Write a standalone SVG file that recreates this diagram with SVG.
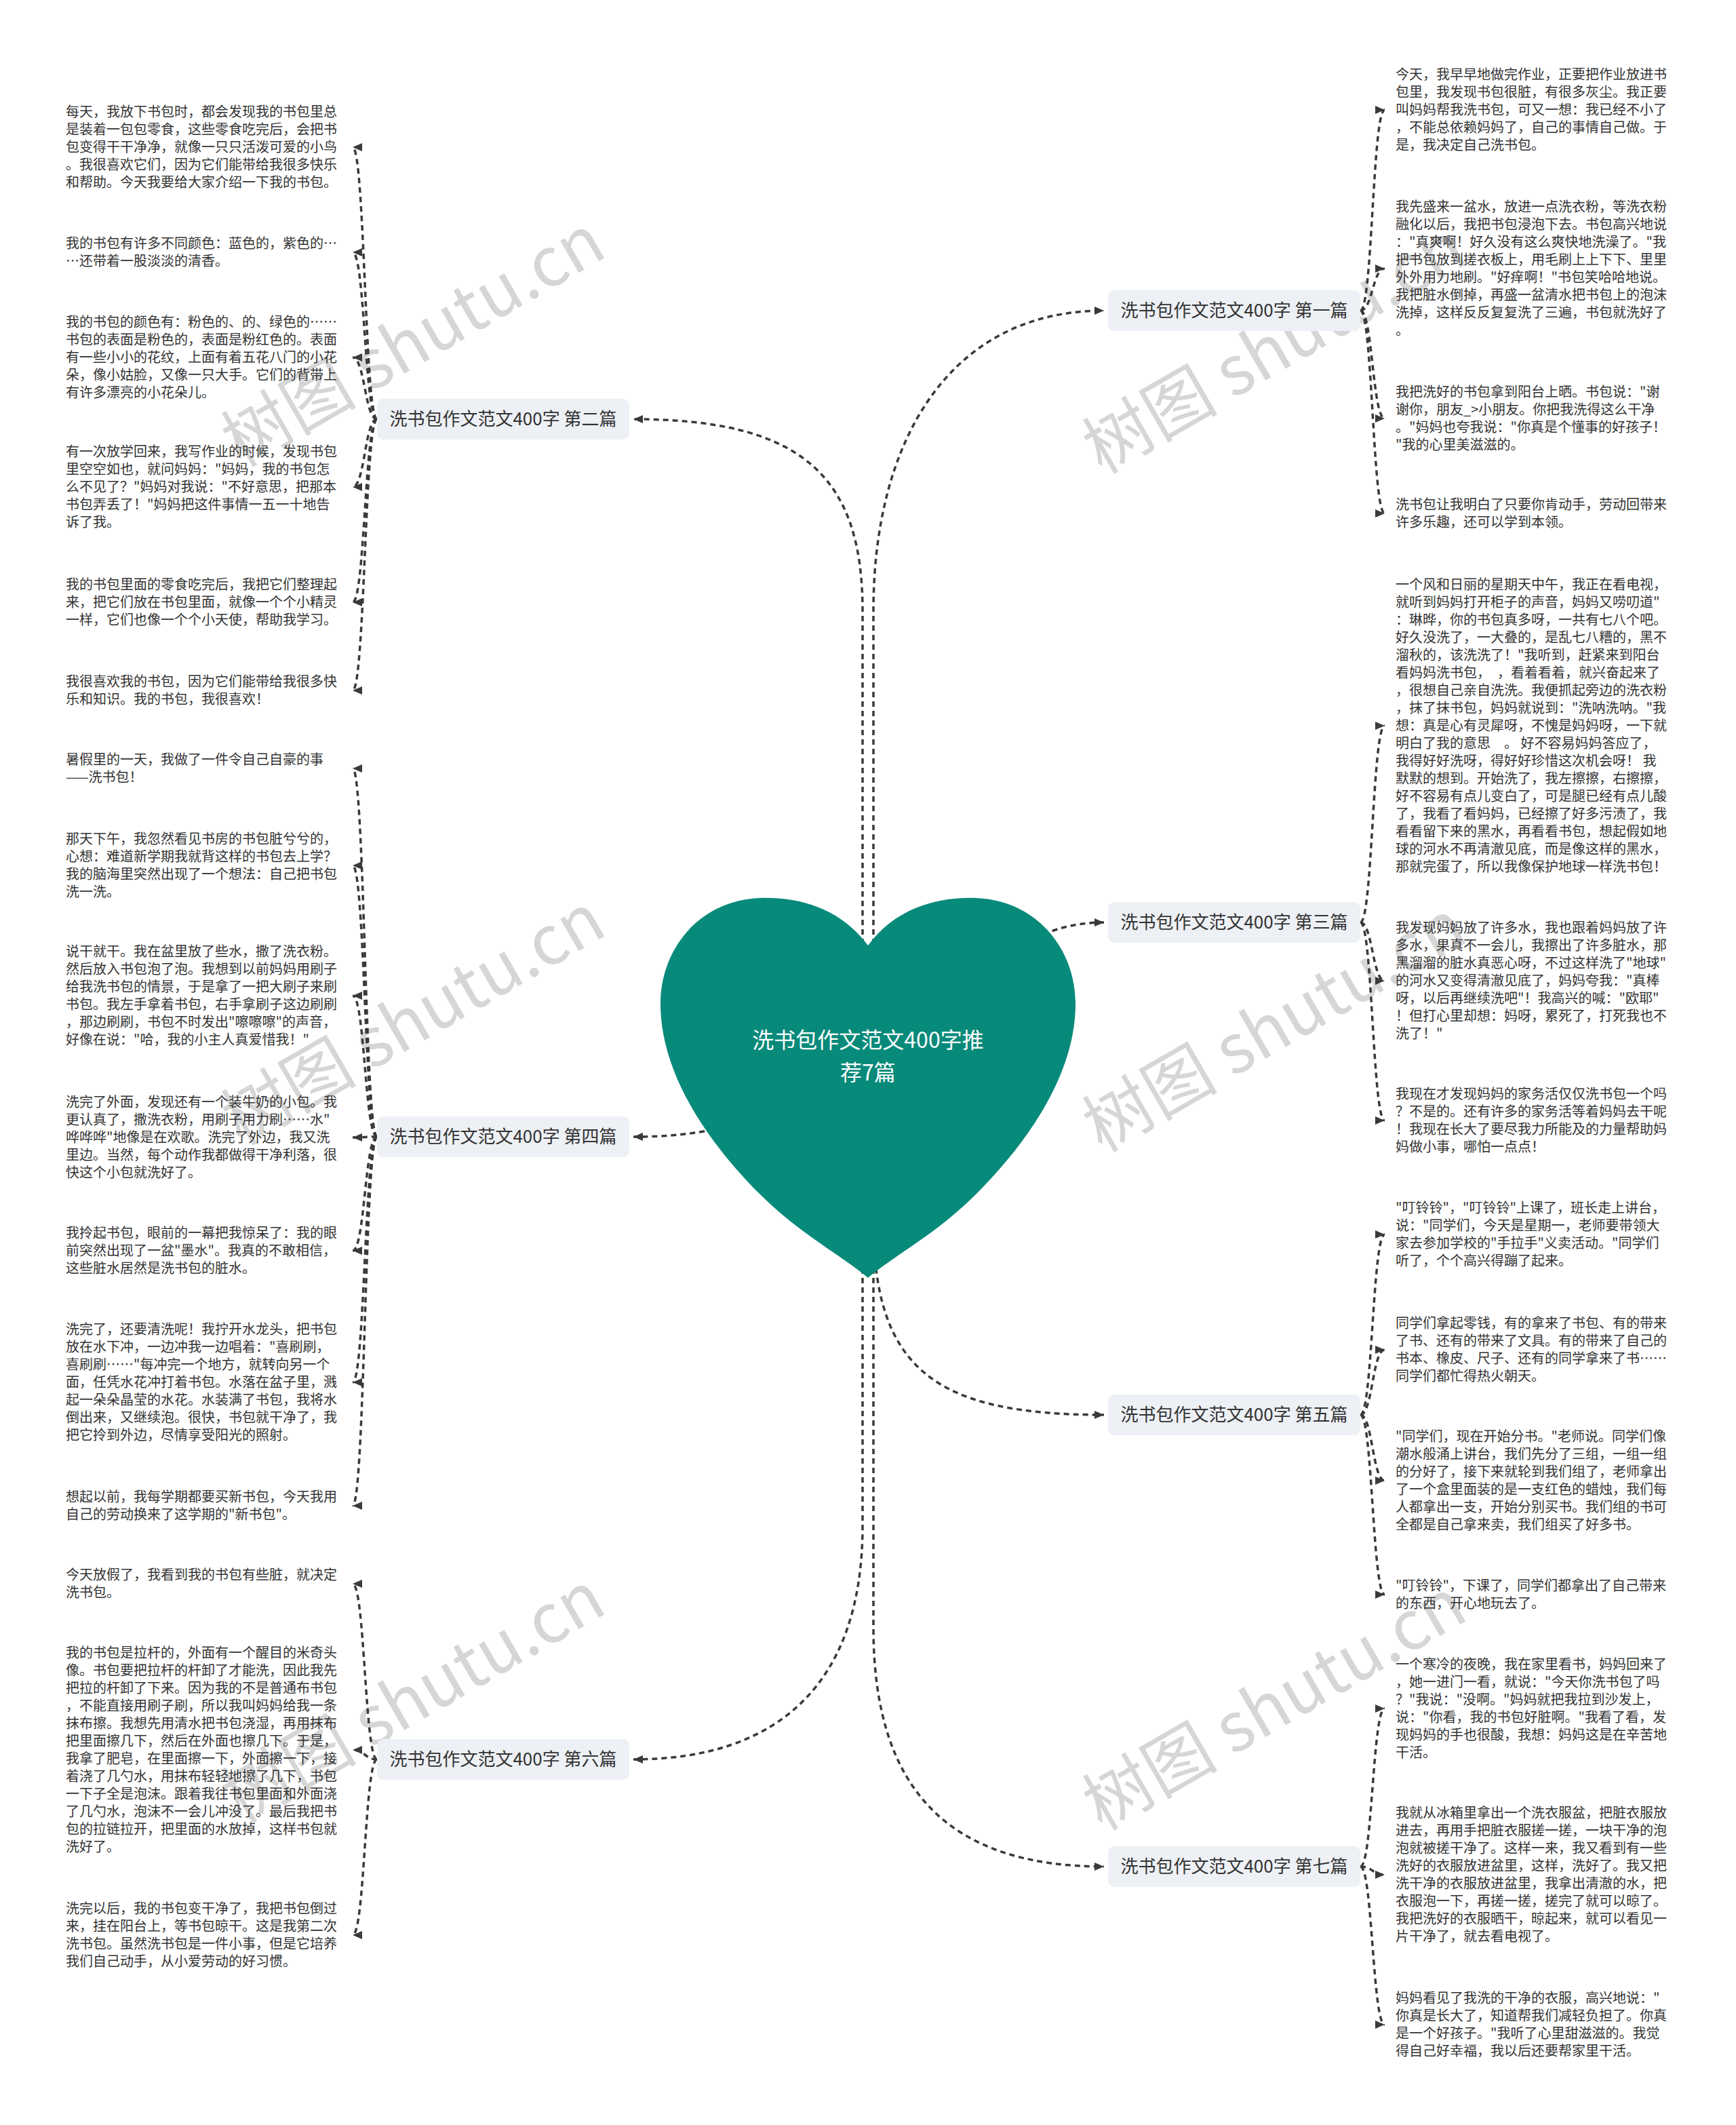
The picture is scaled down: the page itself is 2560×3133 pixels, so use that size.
<svg xmlns="http://www.w3.org/2000/svg" width="2560" height="3133" viewBox="0 0 2560 3133">
<style>
.t{font-family:"Noto Sans CJK SC","Noto Sans",sans-serif;font-size:20px;fill:#333;white-space:pre}
.lbl{font-family:"Noto Sans CJK SC","Noto Sans",sans-serif;font-size:26px;fill:#333;text-anchor:middle}
.box{fill:#edf0f4}
.c{fill:none;stroke:#3a3a3a;stroke-width:3.5;stroke-dasharray:8 6;marker-end:url(#arr)}
.wm{font-family:"Noto Sans CJK SC","Noto Sans",sans-serif;font-size:100px;fill:#d6d6d6}
.title{font-family:"Noto Sans CJK SC","Noto Sans",sans-serif;font-size:32px;fill:#fff;text-anchor:middle}
</style>
<defs>
<marker id="arr" viewBox="0 0 14 12" refX="14" refY="6" markerWidth="14" markerHeight="12" markerUnits="userSpaceOnUse" orient="auto"><path d="M0,0 L14,6 L0,12 z" fill="#3a3a3a"/></marker>
</defs>
<rect width="2560" height="3133" fill="#fff"/>
<g id="watermarks">
<text class="wm" transform="translate(355,690) rotate(-30)">树图 shutu.cn</text>
<text class="wm" transform="translate(355,1690) rotate(-30)">树图 shutu.cn</text>
<text class="wm" transform="translate(355,2690) rotate(-30)">树图 shutu.cn</text>
<text class="wm" transform="translate(1625,700) rotate(-30)">树图 shutu.cn</text>
<text class="wm" transform="translate(1625,1700) rotate(-30)">树图 shutu.cn</text>
<text class="wm" transform="translate(1625,2700) rotate(-30)">树图 shutu.cn</text>
</g>
<g id="connectors">
<path class="c" d="M1288,1420 L1288,900 C1288,650 1400,458 1628,458"/>
<path class="c" d="M1272,1420 L1272,900 C1272,700 1180,618 934,618"/>
<path class="c" d="M1280,1600 C1400,1600 1420,1360 1628,1360"/>
<path class="c" d="M1280,1600 C1160,1600 1140,1676 934,1676"/>
<path class="c" d="M1288,1800 C1288,2020 1380,2086 1628,2086"/>
<path class="c" d="M1272,1800 L1272,2250 C1272,2480 1150,2594 934,2594"/>
<path class="c" d="M1288,1800 L1288,2400 C1288,2640 1400,2752 1628,2752"/>
<path class="c" d="M2006,458 C2024,458 2024,162 2042,162"/>
<path class="c" d="M2006,458 C2024,458 2024,396 2042,396"/>
<path class="c" d="M2006,458 C2024,458 2024,617 2042,617"/>
<path class="c" d="M2006,458 C2024,458 2024,757 2042,757"/>
<path class="c" d="M556,618 C538,618 538,217 520,217"/>
<path class="c" d="M556,618 C538,618 538,372 520,372"/>
<path class="c" d="M556,618 C538,618 538,527 520,527"/>
<path class="c" d="M556,618 C538,618 538,718 520,718"/>
<path class="c" d="M556,618 C538,618 538,888 520,888"/>
<path class="c" d="M556,618 C538,618 538,1018 520,1018"/>
<path class="c" d="M2006,1360 C2024,1360 2024,1070 2042,1070"/>
<path class="c" d="M2006,1360 C2024,1360 2024,1446 2042,1446"/>
<path class="c" d="M2006,1360 C2024,1360 2024,1652 2042,1652"/>
<path class="c" d="M556,1676 C538,1676 538,1133 520,1133"/>
<path class="c" d="M556,1676 C538,1676 538,1276 520,1276"/>
<path class="c" d="M556,1676 C538,1676 538,1468 520,1468"/>
<path class="c" d="M556,1676 C538,1676 538,1677 520,1677"/>
<path class="c" d="M556,1676 C538,1676 538,1844 520,1844"/>
<path class="c" d="M556,1676 C538,1676 538,2038 520,2038"/>
<path class="c" d="M556,1676 C538,1676 538,2220 520,2220"/>
<path class="c" d="M2006,2086 C2024,2086 2024,1820 2042,1820"/>
<path class="c" d="M2006,2086 C2024,2086 2024,1990 2042,1990"/>
<path class="c" d="M2006,2086 C2024,2086 2024,2183 2042,2183"/>
<path class="c" d="M2006,2086 C2024,2086 2024,2351 2042,2351"/>
<path class="c" d="M556,2594 C538,2594 538,2335 520,2335"/>
<path class="c" d="M556,2594 C538,2594 538,2580 520,2580"/>
<path class="c" d="M556,2594 C538,2594 538,2853 520,2853"/>
<path class="c" d="M2006,2752 C2024,2752 2024,2519 2042,2519"/>
<path class="c" d="M2006,2752 C2024,2752 2024,2764 2042,2764"/>
<path class="c" d="M2006,2752 C2024,2752 2024,2985 2042,2985"/>
</g>
<g id="root">
<path d="M1280,1394 C1240,1340 1180,1322 1120,1324 C1030,1328 974,1400 974,1480 C974,1580 1040,1680 1120,1760 C1180,1820 1240,1850 1280,1884 C1320,1850 1380,1820 1440,1760 C1520,1680 1586,1580 1586,1480 C1586,1400 1530,1328 1440,1324 C1380,1322 1320,1340 1280,1394 Z" fill="#088a7a"/>
<text class="title" x="1280" y="1545">洗书包作文范文400字推</text>
<text class="title" x="1280" y="1593">荐7篇</text>
</g>
<g id="label-1"><rect class="box" x="1634" y="428" width="372" height="60" rx="9"/><text class="lbl" x="1820" y="467">洗书包作文范文400字 第一篇</text></g>
<g id="label-2"><rect class="box" x="556" y="588" width="372" height="60" rx="9"/><text class="lbl" x="742" y="627">洗书包作文范文400字 第二篇</text></g>
<g id="label-3"><rect class="box" x="1634" y="1330" width="372" height="60" rx="9"/><text class="lbl" x="1820" y="1369">洗书包作文范文400字 第三篇</text></g>
<g id="label-4"><rect class="box" x="556" y="1646" width="372" height="60" rx="9"/><text class="lbl" x="742" y="1685">洗书包作文范文400字 第四篇</text></g>
<g id="label-5"><rect class="box" x="1634" y="2056" width="372" height="60" rx="9"/><text class="lbl" x="1820" y="2095">洗书包作文范文400字 第五篇</text></g>
<g id="label-6"><rect class="box" x="556" y="2564" width="372" height="60" rx="9"/><text class="lbl" x="742" y="2603">洗书包作文范文400字 第六篇</text></g>
<g id="label-7"><rect class="box" x="1634" y="2722" width="372" height="60" rx="9"/><text class="lbl" x="1820" y="2761">洗书包作文范文400字 第七篇</text></g>
<g id="text-l1"><text class="t" x="97" y="172"><tspan x="97">每天，我放下书包时，都会发现我的书包里总</tspan><tspan x="97" dy="26">是装着一包包零食，这些零食吃完后，会把书</tspan><tspan x="97" dy="26">包变得干干净净，就像一只只活泼可爱的小鸟</tspan><tspan x="97" dy="26">。我很喜欢它们，因为它们能带给我很多快乐</tspan><tspan x="97" dy="26">和帮助。今天我要给大家介绍一下我的书包。</tspan></text></g>
<g id="text-l2"><text class="t" x="97" y="366"><tspan x="97">我的书包有许多不同颜色：蓝色的，紫色的…</tspan><tspan x="97" dy="26">…还带着一股淡淡的清香。</tspan></text></g>
<g id="text-l3"><text class="t" x="97" y="482"><tspan x="97">我的书包的颜色有：粉色的、的、绿色的……</tspan><tspan x="97" dy="26">书包的表面是粉色的，表面是粉红色的。表面</tspan><tspan x="97" dy="26">有一些小小的花纹，上面有着五花八门的小花</tspan><tspan x="97" dy="26">朵，像小姑脸，又像一只大手。它们的背带上</tspan><tspan x="97" dy="26">有许多漂亮的小花朵儿。</tspan></text></g>
<g id="text-l4"><text class="t" x="97" y="673"><tspan x="97">有一次放学回来，我写作业的时候，发现书包</tspan><tspan x="97" dy="26">里空空如也，就问妈妈："妈妈，我的书包怎</tspan><tspan x="97" dy="26">么不见了？"妈妈对我说："不好意思，把那本</tspan><tspan x="97" dy="26">书包弄丢了！"妈妈把这件事情一五一十地告</tspan><tspan x="97" dy="26">诉了我。</tspan></text></g>
<g id="text-l5"><text class="t" x="97" y="869"><tspan x="97">我的书包里面的零食吃完后，我把它们整理起</tspan><tspan x="97" dy="26">来，把它们放在书包里面，就像一个个小精灵</tspan><tspan x="97" dy="26">一样，它们也像一个个小天使，帮助我学习。</tspan></text></g>
<g id="text-l6"><text class="t" x="97" y="1012"><tspan x="97">我很喜欢我的书包，因为它们能带给我很多快</tspan><tspan x="97" dy="26">乐和知识。我的书包，我很喜欢！</tspan></text></g>
<g id="text-l7"><text class="t" x="97" y="1127"><tspan x="97">暑假里的一天，我做了一件令自己自豪的事</tspan><tspan x="97" dy="26">——洗书包！</tspan></text></g>
<g id="text-l8"><text class="t" x="97" y="1244"><tspan x="97">那天下午，我忽然看见书房的书包脏兮兮的，</tspan><tspan x="97" dy="26">心想：难道新学期我就背这样的书包去上学？</tspan><tspan x="97" dy="26">我的脑海里突然出现了一个想法：自己把书包</tspan><tspan x="97" dy="26">洗一洗。</tspan></text></g>
<g id="text-l9"><text class="t" x="97" y="1410"><tspan x="97">说干就干。我在盆里放了些水，撒了洗衣粉。</tspan><tspan x="97" dy="26">然后放入书包泡了泡。我想到以前妈妈用刷子</tspan><tspan x="97" dy="26">给我洗书包的情景，于是拿了一把大刷子来刷</tspan><tspan x="97" dy="26">书包。我左手拿着书包，右手拿刷子这边刷刷</tspan><tspan x="97" dy="26">，那边刷刷，书包不时发出"嚓嚓嚓"的声音，</tspan><tspan x="97" dy="26">好像在说："哈，我的小主人真爱惜我！"</tspan></text></g>
<g id="text-l10"><text class="t" x="97" y="1632"><tspan x="97">洗完了外面，发现还有一个装牛奶的小包。我</tspan><tspan x="97" dy="26">更认真了，撒洗衣粉，用刷子用力刷……水"</tspan><tspan x="97" dy="26">哗哗哗"地像是在欢歌。洗完了外边，我又洗</tspan><tspan x="97" dy="26">里边。当然，每个动作我都做得干净利落，很</tspan><tspan x="97" dy="26">快这个小包就洗好了。</tspan></text></g>
<g id="text-l11"><text class="t" x="97" y="1825"><tspan x="97">我拎起书包，眼前的一幕把我惊呆了：我的眼</tspan><tspan x="97" dy="26">前突然出现了一盆"墨水"。我真的不敢相信，</tspan><tspan x="97" dy="26">这些脏水居然是洗书包的脏水。</tspan></text></g>
<g id="text-l12"><text class="t" x="97" y="1967"><tspan x="97">洗完了，还要清洗呢！我拧开水龙头，把书包</tspan><tspan x="97" dy="26">放在水下冲，一边冲我一边唱着："喜刷刷，</tspan><tspan x="97" dy="26">喜刷刷……"每冲完一个地方，就转向另一个</tspan><tspan x="97" dy="26">面，任凭水花冲打着书包。水落在盆子里，溅</tspan><tspan x="97" dy="26">起一朵朵晶莹的水花。水装满了书包，我将水</tspan><tspan x="97" dy="26">倒出来，又继续泡。很快，书包就干净了，我</tspan><tspan x="97" dy="26">把它拎到外边，尽情享受阳光的照射。</tspan></text></g>
<g id="text-l13"><text class="t" x="97" y="2214"><tspan x="97">想起以前，我每学期都要买新书包，今天我用</tspan><tspan x="97" dy="26">自己的劳动换来了这学期的"新书包"。</tspan></text></g>
<g id="text-l14"><text class="t" x="97" y="2329"><tspan x="97">今天放假了，我看到我的书包有些脏，就决定</tspan><tspan x="97" dy="26">洗书包。</tspan></text></g>
<g id="text-l15"><text class="t" x="97" y="2444"><tspan x="97">我的书包是拉杆的，外面有一个醒目的米奇头</tspan><tspan x="97" dy="26">像。书包要把拉杆的杆卸了才能洗，因此我先</tspan><tspan x="97" dy="26">把拉的杆卸了下来。因为我的不是普通布书包</tspan><tspan x="97" dy="26">，不能直接用刷子刷，所以我叫妈妈给我一条</tspan><tspan x="97" dy="26">抹布擦。我想先用清水把书包浇湿，再用抹布</tspan><tspan x="97" dy="26">把里面擦几下，然后在外面也擦几下。于是，</tspan><tspan x="97" dy="26">我拿了肥皂，在里面擦一下，外面擦一下，接</tspan><tspan x="97" dy="26">着浇了几勺水，用抹布轻轻地擦了几下，书包</tspan><tspan x="97" dy="26">一下子全是泡沫。跟着我往书包里面和外面浇</tspan><tspan x="97" dy="26">了几勺水，泡沫不一会儿冲没了。最后我把书</tspan><tspan x="97" dy="26">包的拉链拉开，把里面的水放掉，这样书包就</tspan><tspan x="97" dy="26">洗好了。</tspan></text></g>
<g id="text-l16"><text class="t" x="97" y="2821"><tspan x="97">洗完以后，我的书包变干净了，我把书包倒过</tspan><tspan x="97" dy="26">来，挂在阳台上，等书包晾干。这是我第二次</tspan><tspan x="97" dy="26">洗书包。虽然洗书包是一件小事，但是它培养</tspan><tspan x="97" dy="26">我们自己动手，从小爱劳动的好习惯。</tspan></text></g>
<g id="text-r1"><text class="t" x="2058" y="117"><tspan x="2058">今天，我早早地做完作业，正要把作业放进书</tspan><tspan x="2058" dy="26">包里，我发现书包很脏，有很多灰尘。我正要</tspan><tspan x="2058" dy="26">叫妈妈帮我洗书包，可又一想：我已经不小了</tspan><tspan x="2058" dy="26">，不能总依赖妈妈了，自己的事情自己做。于</tspan><tspan x="2058" dy="26">是，我决定自己洗书包。</tspan></text></g>
<g id="text-r2"><text class="t" x="2058" y="312"><tspan x="2058">我先盛来一盆水，放进一点洗衣粉，等洗衣粉</tspan><tspan x="2058" dy="26">融化以后，我把书包浸泡下去。书包高兴地说</tspan><tspan x="2058" dy="26">："真爽啊！好久没有这么爽快地洗澡了。"我</tspan><tspan x="2058" dy="26">把书包放到搓衣板上，用毛刷上上下下、里里</tspan><tspan x="2058" dy="26">外外用力地刷。"好痒啊！"书包笑哈哈地说。</tspan><tspan x="2058" dy="26">我把脏水倒掉，再盛一盆清水把书包上的泡沫</tspan><tspan x="2058" dy="26">洗掉，这样反反复复洗了三遍，书包就洗好了</tspan><tspan x="2058" dy="26">。</tspan></text></g>
<g id="text-r3"><text class="t" x="2058" y="585"><tspan x="2058">我把洗好的书包拿到阳台上晒。书包说："谢</tspan><tspan x="2058" dy="26">谢你，朋友_&gt;小朋友。你把我洗得这么干净</tspan><tspan x="2058" dy="26">。"妈妈也夸我说："你真是个懂事的好孩子！</tspan><tspan x="2058" dy="26">"我的心里美滋滋的。</tspan></text></g>
<g id="text-r4"><text class="t" x="2058" y="751"><tspan x="2058">洗书包让我明白了只要你肯动手，劳动回带来</tspan><tspan x="2058" dy="26">许多乐趣，还可以学到本领。</tspan></text></g>
<g id="text-r5"><text class="t" x="2058" y="869"><tspan x="2058">一个风和日丽的星期天中午，我正在看电视，</tspan><tspan x="2058" dy="26">就听到妈妈打开柜子的声音，妈妈又唠叨道"</tspan><tspan x="2058" dy="26">：琳晔，你的书包真多呀，一共有七八个吧。</tspan><tspan x="2058" dy="26">好久没洗了，一大叠的，是乱七八糟的，黑不</tspan><tspan x="2058" dy="26">溜秋的，该洗洗了！"我听到，赶紧来到阳台</tspan><tspan x="2058" dy="26">看妈妈洗书包，　，看着看着，就兴奋起来了</tspan><tspan x="2058" dy="26">，很想自己亲自洗洗。我便抓起旁边的洗衣粉</tspan><tspan x="2058" dy="26">，抹了抹书包，妈妈就说到："洗呐洗呐。"我</tspan><tspan x="2058" dy="26">想：真是心有灵犀呀，不愧是妈妈呀，一下就</tspan><tspan x="2058" dy="26">明白了我的意思　。 好不容易妈妈答应了，</tspan><tspan x="2058" dy="26">我得好好洗呀，得好好珍惜这次机会呀！ 我</tspan><tspan x="2058" dy="26">默默的想到。开始洗了，我左擦擦，右擦擦，</tspan><tspan x="2058" dy="26">好不容易有点儿变白了，可是腿已经有点儿酸</tspan><tspan x="2058" dy="26">了，我看了看妈妈，已经擦了好多污渍了，我</tspan><tspan x="2058" dy="26">看看留下来的黑水，再看看书包，想起假如地</tspan><tspan x="2058" dy="26">球的河水不再清澈见底，而是像这样的黑水，</tspan><tspan x="2058" dy="26">那就完蛋了，所以我像保护地球一样洗书包！</tspan></text></g>
<g id="text-r6"><text class="t" x="2058" y="1375"><tspan x="2058">我发现妈妈放了许多水，我也跟着妈妈放了许</tspan><tspan x="2058" dy="26">多水，果真不一会儿，我擦出了许多脏水，那</tspan><tspan x="2058" dy="26">黑溜溜的脏水真恶心呀，不过这样洗了"地球"</tspan><tspan x="2058" dy="26">的河水又变得清澈见底了，妈妈夸我："真棒</tspan><tspan x="2058" dy="26">呀，以后再继续洗吧"！我高兴的喊："欧耶"</tspan><tspan x="2058" dy="26">！但打心里却想：妈呀，累死了，打死我也不</tspan><tspan x="2058" dy="26">洗了！"</tspan></text></g>
<g id="text-r7"><text class="t" x="2058" y="1620"><tspan x="2058">我现在才发现妈妈的家务活仅仅洗书包一个吗</tspan><tspan x="2058" dy="26">？不是的。还有许多的家务活等着妈妈去干呢</tspan><tspan x="2058" dy="26">！我现在长大了要尽我力所能及的力量帮助妈</tspan><tspan x="2058" dy="26">妈做小事，哪怕一点点！</tspan></text></g>
<g id="text-r8"><text class="t" x="2058" y="1788"><tspan x="2058">"叮铃铃"，"叮铃铃"上课了，班长走上讲台，</tspan><tspan x="2058" dy="26">说："同学们，今天是星期一，老师要带领大</tspan><tspan x="2058" dy="26">家去参加学校的"手拉手"义卖活动。"同学们</tspan><tspan x="2058" dy="26">听了，个个高兴得蹦了起来。</tspan></text></g>
<g id="text-r9"><text class="t" x="2058" y="1958"><tspan x="2058">同学们拿起零钱，有的拿来了书包、有的带来</tspan><tspan x="2058" dy="26">了书、还有的带来了文具。有的带来了自己的</tspan><tspan x="2058" dy="26">书本、橡皮、尺子、还有的同学拿来了书……</tspan><tspan x="2058" dy="26">同学们都忙得热火朝天。</tspan></text></g>
<g id="text-r10"><text class="t" x="2058" y="2125"><tspan x="2058">"同学们，现在开始分书。"老师说。同学们像</tspan><tspan x="2058" dy="26">潮水般涌上讲台，我们先分了三组，一组一组</tspan><tspan x="2058" dy="26">的分好了，接下来就轮到我们组了，老师拿出</tspan><tspan x="2058" dy="26">了一个盒里面装的是一支红色的蜡烛，我们每</tspan><tspan x="2058" dy="26">人都拿出一支，开始分别买书。我们组的书可</tspan><tspan x="2058" dy="26">全都是自己拿来卖，我们组买了好多书。</tspan></text></g>
<g id="text-r11"><text class="t" x="2058" y="2345"><tspan x="2058">"叮铃铃"，下课了，同学们都拿出了自己带来</tspan><tspan x="2058" dy="26">的东西，开心地玩去了。</tspan></text></g>
<g id="text-r12"><text class="t" x="2058" y="2461"><tspan x="2058">一个寒冷的夜晚，我在家里看书，妈妈回来了</tspan><tspan x="2058" dy="26">，她一进门一看，就说："今天你洗书包了吗</tspan><tspan x="2058" dy="26">？"我说："没啊。"妈妈就把我拉到沙发上，</tspan><tspan x="2058" dy="26">说："你看，我的书包好脏啊。"我看了看，发</tspan><tspan x="2058" dy="26">现妈妈的手也很酸，我想：妈妈这是在辛苦地</tspan><tspan x="2058" dy="26">干活。</tspan></text></g>
<g id="text-r13"><text class="t" x="2058" y="2680"><tspan x="2058">我就从冰箱里拿出一个洗衣服盆，把脏衣服放</tspan><tspan x="2058" dy="26">进去，再用手把脏衣服搓一搓，一块干净的泡</tspan><tspan x="2058" dy="26">泡就被搓干净了。这样一来，我又看到有一些</tspan><tspan x="2058" dy="26">洗好的衣服放进盆里，这样，洗好了。我又把</tspan><tspan x="2058" dy="26">洗干净的衣服放进盆里，我拿出清澈的水，把</tspan><tspan x="2058" dy="26">衣服泡一下，再搓一搓，搓完了就可以晾了。</tspan><tspan x="2058" dy="26">我把洗好的衣服晒干，晾起来，就可以看见一</tspan><tspan x="2058" dy="26">片干净了，就去看电视了。</tspan></text></g>
<g id="text-r14"><text class="t" x="2058" y="2953"><tspan x="2058">妈妈看见了我洗的干净的衣服，高兴地说："</tspan><tspan x="2058" dy="26">你真是长大了，知道帮我们减轻负担了。你真</tspan><tspan x="2058" dy="26">是一个好孩子。"我听了心里甜滋滋的。我觉</tspan><tspan x="2058" dy="26">得自己好幸福，我以后还要帮家里干活。</tspan></text></g>
</svg>
